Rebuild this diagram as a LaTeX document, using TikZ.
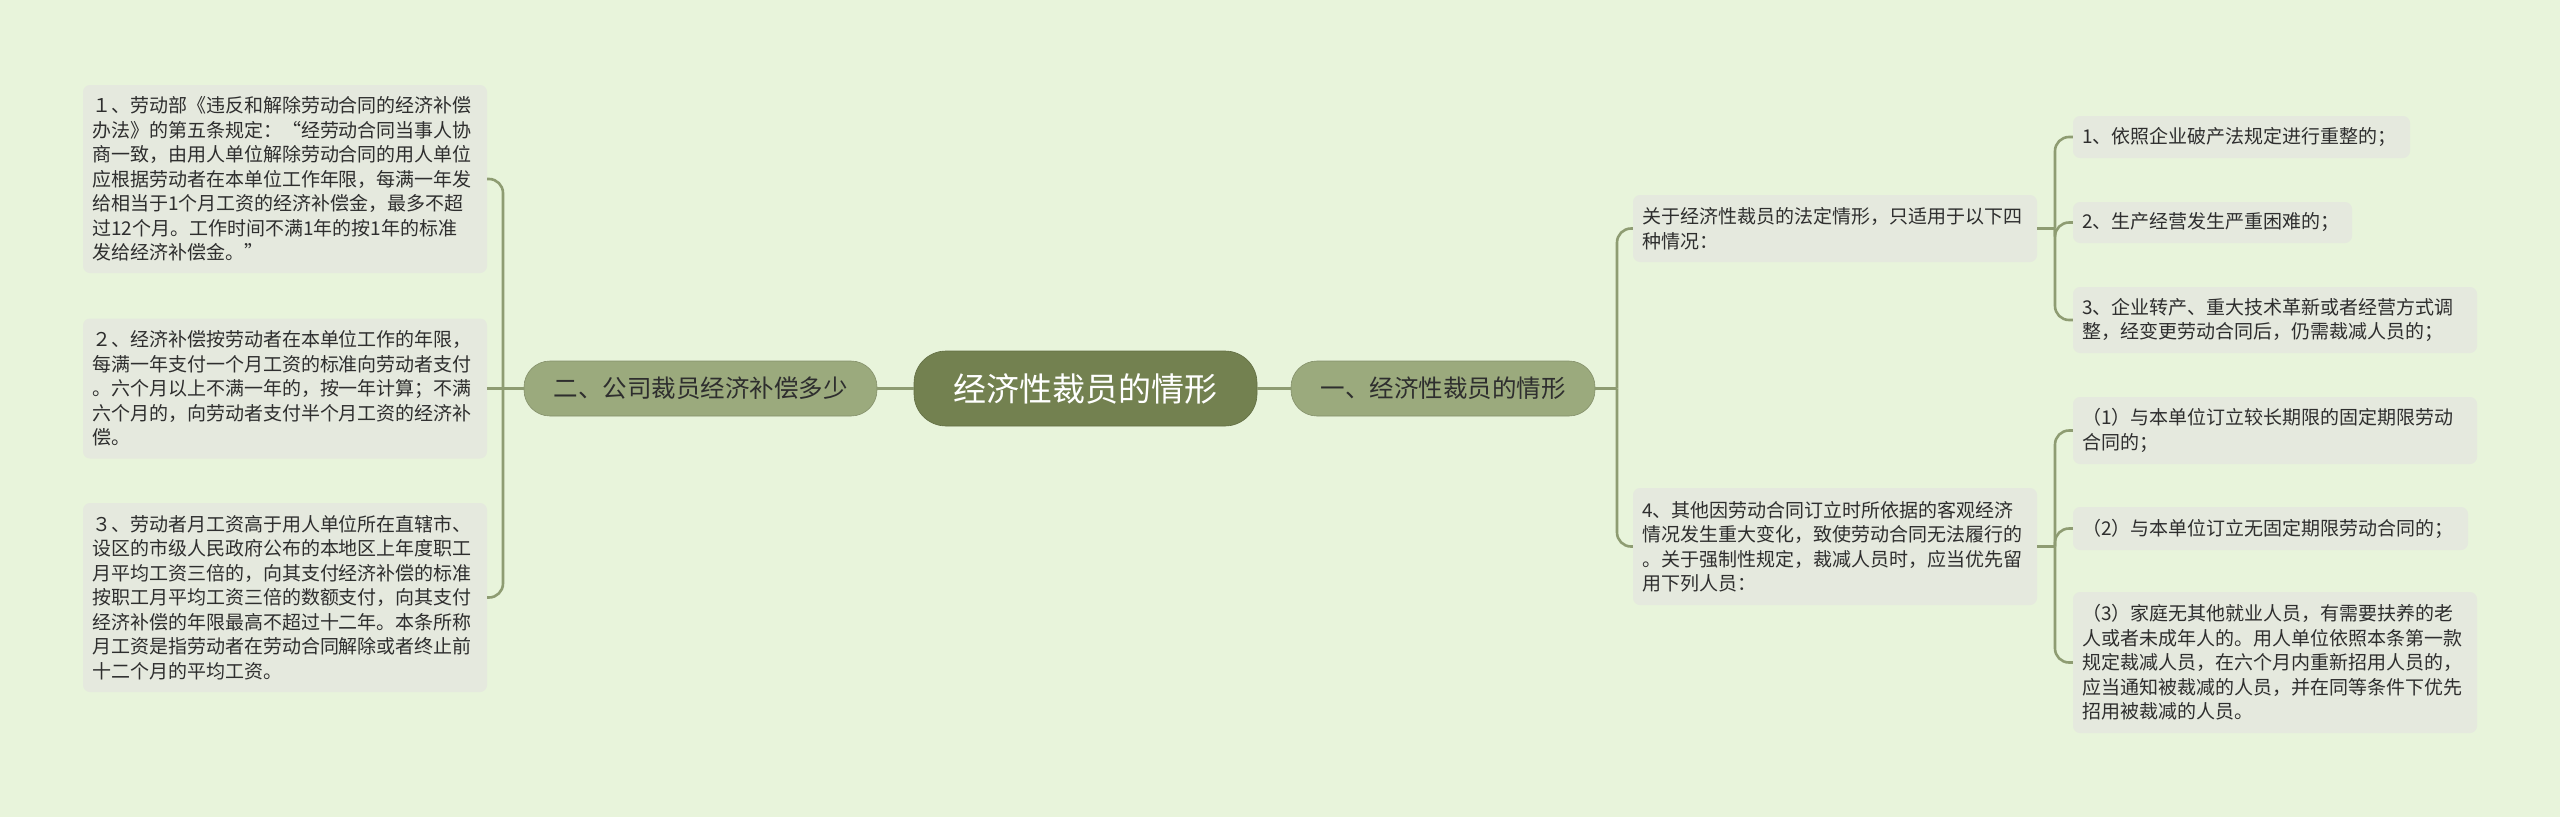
\documentclass[tikz,border=0pt]{standalone}
\usepackage{fontspec}
\setmainfont{Noto Sans CJK SC}
\definecolor{bgc}{HTML}{E8F4DB}
\definecolor{leafc}{HTML}{E5E9DE}
\definecolor{linec}{HTML}{8E9C72}
\definecolor{centc}{HTML}{738150}
\definecolor{mainc}{HTML}{9BAA7D}
\definecolor{textc}{HTML}{2E2E2E}
\tikzset{
  leaf/.style={fill=leafc, rounded corners=7pt, inner xsep=9pt, inner ysep=0pt, align=left,
    font=\fontsize{19}{24.5}\selectfont, text=textc},
  topic/.style={fill=mainc, draw=mainc!85!black, line width=0.6pt, rounded corners=26pt, minimum height=55pt,
    inner sep=0pt, font=\fontsize{24.5}{24.5}\selectfont, text=textc},
  root/.style={fill=centc, draw=centc!85!black, line width=0.6pt, rounded corners=32pt, minimum height=75pt,
    minimum width=343pt, inner sep=0pt, font=\fontsize{33}{33}\selectfont, text=white},
  conn/.style={draw=linec, line width=2.6pt},
  curvedconn/.style={conn, rounded corners=14pt}
}
\begin{document}
\begin{tikzpicture}[x=1pt,y=-1pt]
\fill[bgc] (0,0) rectangle (2560,817);
\useasboundingbox (0,0) rectangle (2560,817);

\coordinate (jr) at (1617,388.5);
\coordinate (jl) at (503,388.5);
\coordinate (ja) at (2055,228.5);
\coordinate (jb) at (2055,546.5);

\node[root] (c) at (1085.5,388.5) {经济性裁员的情形};
\node[topic, minimum width=304pt] (r) at (1443,388.5) {一、经济性裁员的情形};
\node[topic, minimum width=353pt] (l) at (700.5,388.5) {二、公司裁员经济补偿多少};

\node[leaf, text width=386pt, minimum height=188pt] (l1) at (285,179) {１、劳动部《违反和解除劳动合同的经济补偿\\办法》的第五条规定：“经劳动合同当事人协\\商一致，由用人单位解除劳动合同的用人单位\\应根据劳动者在本单位工作年限，每满一年发\\给相当于1个月工资的经济补偿金，最多不超\\过12个月。工作时间不满1年的按1年的标准\\发给经济补偿金。”};
\node[leaf, text width=386pt, minimum height=140pt] (l2) at (285,388.5) {２、经济补偿按劳动者在本单位工作的年限，\\每满一年支付一个月工资的标准向劳动者支付\\。六个月以上不满一年的，按一年计算；不满\\六个月的，向劳动者支付半个月工资的经济补\\偿。};
\node[leaf, text width=386pt, minimum height=189pt] (l3) at (285,597.5) {３、劳动者月工资高于用人单位所在直辖市、\\设区的市级人民政府公布的本地区上年度职工\\月平均工资三倍的，向其支付经济补偿的标准\\按职工月平均工资三倍的数额支付，向其支付\\经济补偿的年限最高不超过十二年。本条所称\\月工资是指劳动者在劳动合同解除或者终止前\\十二个月的平均工资。};

\node[leaf, text width=386pt, minimum height=67pt] (ra) at (1835,228.5) {关于经济性裁员的法定情形，只适用于以下四\\种情况：};
\node[leaf, text width=386pt, minimum height=117pt] (rb) at (1835,546.5) {4、其他因劳动合同订立时所依据的客观经济\\情况发生重大变化，致使劳动合同无法履行的\\。关于强制性规定，裁减人员时，应当优先留\\用下列人员：};

\node[leaf, text width=319pt, minimum height=42pt] (a1) at (2241.5,137) {1、依照企业破产法规定进行重整的；};
\node[leaf, text width=261pt, minimum height=41pt] (a2) at (2212.5,222.5) {2、生产经营发生严重困难的；};
\node[leaf, text width=386pt, minimum height=66pt] (a3) at (2275,320) {3、企业转产、重大技术革新或者经营方式调\\整，经变更劳动合同后，仍需裁减人员的；};

\node[leaf, text width=386pt, minimum height=67pt] (b1) at (2275,430.5) {（1）与本单位订立较长期限的固定期限劳动\\合同的；};
\node[leaf, text width=377pt, minimum height=43pt] (b2) at (2270.5,528.5) {（2）与本单位订立无固定期限劳动合同的；};
\node[leaf, text width=386pt, minimum height=141pt] (b3) at (2275,662.5) {（3）家庭无其他就业人员，有需要扶养的老\\人或者未成年人的。用人单位依照本条第一款\\规定裁减人员，在六个月内重新招用人员的，\\应当通知被裁减的人员，并在同等条件下优先\\招用被裁减的人员。};

\draw[conn] (c.east) -- (r.west);
\draw[conn] (c.west) -- (l.east);

\draw[conn] (r.east) -- (jr);
\draw[curvedconn] (jr) |- (ra.west);
\draw[curvedconn] (jr) |- (rb.west);

\draw[conn] (l.west) -- (jl);
\draw[curvedconn] (jl) |- (l1.east);
\draw[conn] (jl) -- (l2.east);
\draw[curvedconn] (jl) |- (l3.east);

\draw[conn] (ra.east) -- (ja);
\draw[curvedconn] (ja) |- (a1.west);
\draw[curvedconn] (ja) |- (a2.west);
\draw[curvedconn] (ja) |- (a3.west);

\draw[conn] (rb.east) -- (jb);
\draw[curvedconn] (jb) |- (b1.west);
\draw[curvedconn] (jb) |- (b2.west);
\draw[curvedconn] (jb) |- (b3.west);
\end{tikzpicture}
\end{document}
